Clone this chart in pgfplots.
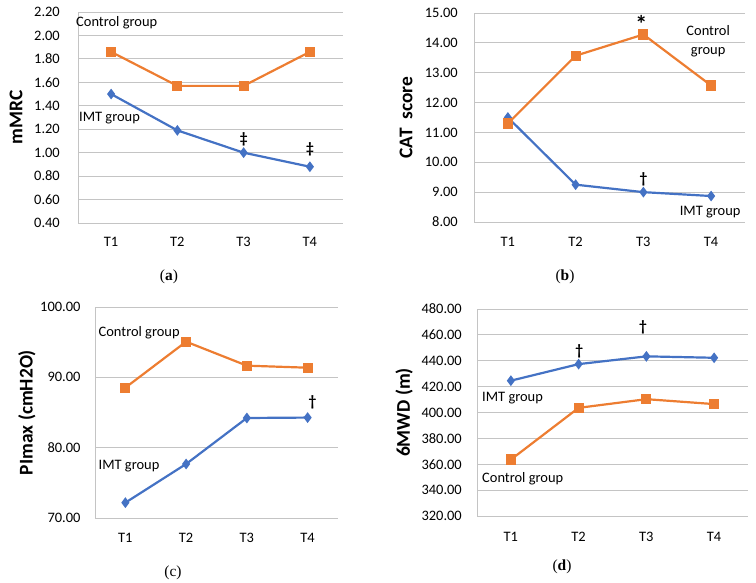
\documentclass[border=0pt]{standalone}
\usepackage{fontspec}
\setmainfont{Carlito}
\newfontfamily\serif{Liberation Serif}
\usepackage{pgfplots}
\pgfplotsset{compat=1.18}
\definecolor{imt}{HTML}{4472C4}
\definecolor{ctrl}{HTML}{ED7D31}
\definecolor{gridc}{HTML}{C4C4C4}
\tikzset{
 ann/.style={font=\fontsize{14.5}{19}\selectfont, inner sep=0pt},
 sig/.style={font=\bfseries\fontsize{15.5}{18}\selectfont, inner sep=0pt},
 captxt/.style={font=\serif\fontsize{15.5}{17}\selectfont},
}
\pgfplotsset{
 panel/.style={
  scale only axis,
  anchor=south west,
  xmin=0.5, xmax=4.5,
  xtick={1,2,3,4}, xticklabels={T1,T2,T3,T4},
  axis lines=left,
  axis line style={-, draw=gridc, line width=0.9bp},
  ymajorgrids,
  grid style={draw=gridc, line width=0.9bp},
  major tick length=0pt,
  tick label style={font=\fontsize{14.5}{17}\selectfont, inner sep=0pt},
  xticklabel style={anchor=north},
  yticklabel style={anchor=east, /pgf/number format/fixed, /pgf/number format/fixed zerofill, /pgf/number format/precision=2, /pgf/number format/assume math mode=true},
  ylabel style={font=\bfseries\fontsize{19.5}{22}\selectfont, anchor=center},
  clip=false,
 },
 ctrlline/.style={color=ctrl, line width=2.2bp, mark=square*, mark size=4bp, mark options={solid, fill=ctrl}},
 imtline/.style={color=imt, line width=2.2bp, mark=diamond*, mark size=3.6bp, mark options={solid, fill=imt}},
}
\begin{document}
\begin{tikzpicture}
\useasboundingbox (0,0) rectangle (756bp,-583bp);
% (a)
\begin{axis}[panel, at={(78bp,-223bp)}, width=265bp, height=211bp,
  ymin=0.4, ymax=2.2, ytick={0.4,0.6,0.8,1.0,1.2,1.4,1.6,1.8,2.0,2.2},
  yticklabel style={xshift=-18bp}, xticklabel style={yshift=-14.3bp},
  ylabel={mMRC}, ylabel style={at={(axis description cs:-0.234,0.5)}}]
\addplot[ctrlline] coordinates {(1,1.86) (2,1.57) (3,1.57) (4,1.86)};
\addplot[imtline] coordinates {(1,1.50) (2,1.19) (3,1.00) (4,0.88)};
\node[ann, anchor=west] at (axis cs:0.47,2.106) {Control group};
\node[ann, anchor=west] at (axis cs:0.515,1.293) {IMT group};
\node[sig] at (axis cs:3,1.116) {‡};
\node[sig] at (axis cs:4,1.031) {‡};
\end{axis}
% (b)
\begin{axis}[panel, at={(474bp,-222bp)}, width=271bp, height=209bp,
  ymin=8, ymax=15, ytick={8,9,10,11,12,13,14,15},
  yticklabel style={xshift=-16bp}, xticklabel style={yshift=-15.3bp},
  ylabel={CAT\ \ score}, ylabel style={at={(axis description cs:-0.251,0.5)}}]
\addplot[imtline] coordinates {(1,11.50) (2,9.25) (3,9.00) (4,8.87)};
\addplot[ctrlline] coordinates {(1,11.30) (2,13.57) (3,14.28) (4,12.57)};
\node[ann, align=center] at (axis cs:3.956,14.05) {Control\\group};
\node[ann] at (axis cs:3.985,8.34) {IMT group};
\node[sig, font=\bfseries\fontsize{24}{26}\selectfont, anchor=north] at (axis cs:2.97,14.92) {*};
\node[sig] at (axis cs:3,9.44) {†};
\end{axis}
% (c)
\begin{axis}[panel, at={(95bp,-518bp)}, width=243bp, height=211bp,
  ymin=70, ymax=100, ytick={70,80,90,100},
  yticklabel style={xshift=-14.3bp}, xticklabel style={yshift=-15.3bp},
  ylabel={PImax (cmH2O)}, ylabel style={at={(axis description cs:-0.280,0.5)}}]
\addplot[ctrlline] coordinates {(1,88.53) (2,95.07) (3,91.66) (4,91.37)};
\addplot[imtline] coordinates {(1,72.18) (2,77.68) (3,84.22) (4,84.28)};
\node[ann, anchor=west] at (axis cs:0.557,96.34) {Control group};
\node[ann, anchor=west] at (axis cs:0.557,77.38) {IMT group};
\node[sig] at (axis cs:4.08,86.39) {†};
\end{axis}
% (d)
\begin{axis}[panel, at={(477bp,-516bp)}, width=271bp, height=207bp,
  ymin=320, ymax=480, ytick={320,340,360,380,400,420,440,460,480},
  yticklabel style={xshift=-15bp}, xticklabel style={yshift=-16.3bp},
  ylabel={6MWD (m)}, ylabel style={at={(axis description cs:-0.269,0.5)}}]
\addplot[imtline] coordinates {(1,424.6) (2,437.4) (3,443.4) (4,442.3)};
\addplot[ctrlline] coordinates {(1,363.6) (2,403.6) (3,410.3) (4,406.5)};
\node[ann, anchor=west] at (axis cs:0.574,411.0) {IMT group};
\node[ann, anchor=west] at (axis cs:0.574,349.2) {Control group};
\node[sig] at (axis cs:2.01,447.0) {†};
\node[sig] at (axis cs:2.95,465.6) {†};
\end{axis}
% captions
\node[captxt] at (169bp,-277bp) {(\textbf{a})};
\node[captxt] at (565bp,-277bp) {(\textbf{b})};
\node[captxt] at (173bp,-573bp) {(c)};
\node[captxt] at (562bp,-567bp) {(\textbf{d})};
\end{tikzpicture}
\end{document}
